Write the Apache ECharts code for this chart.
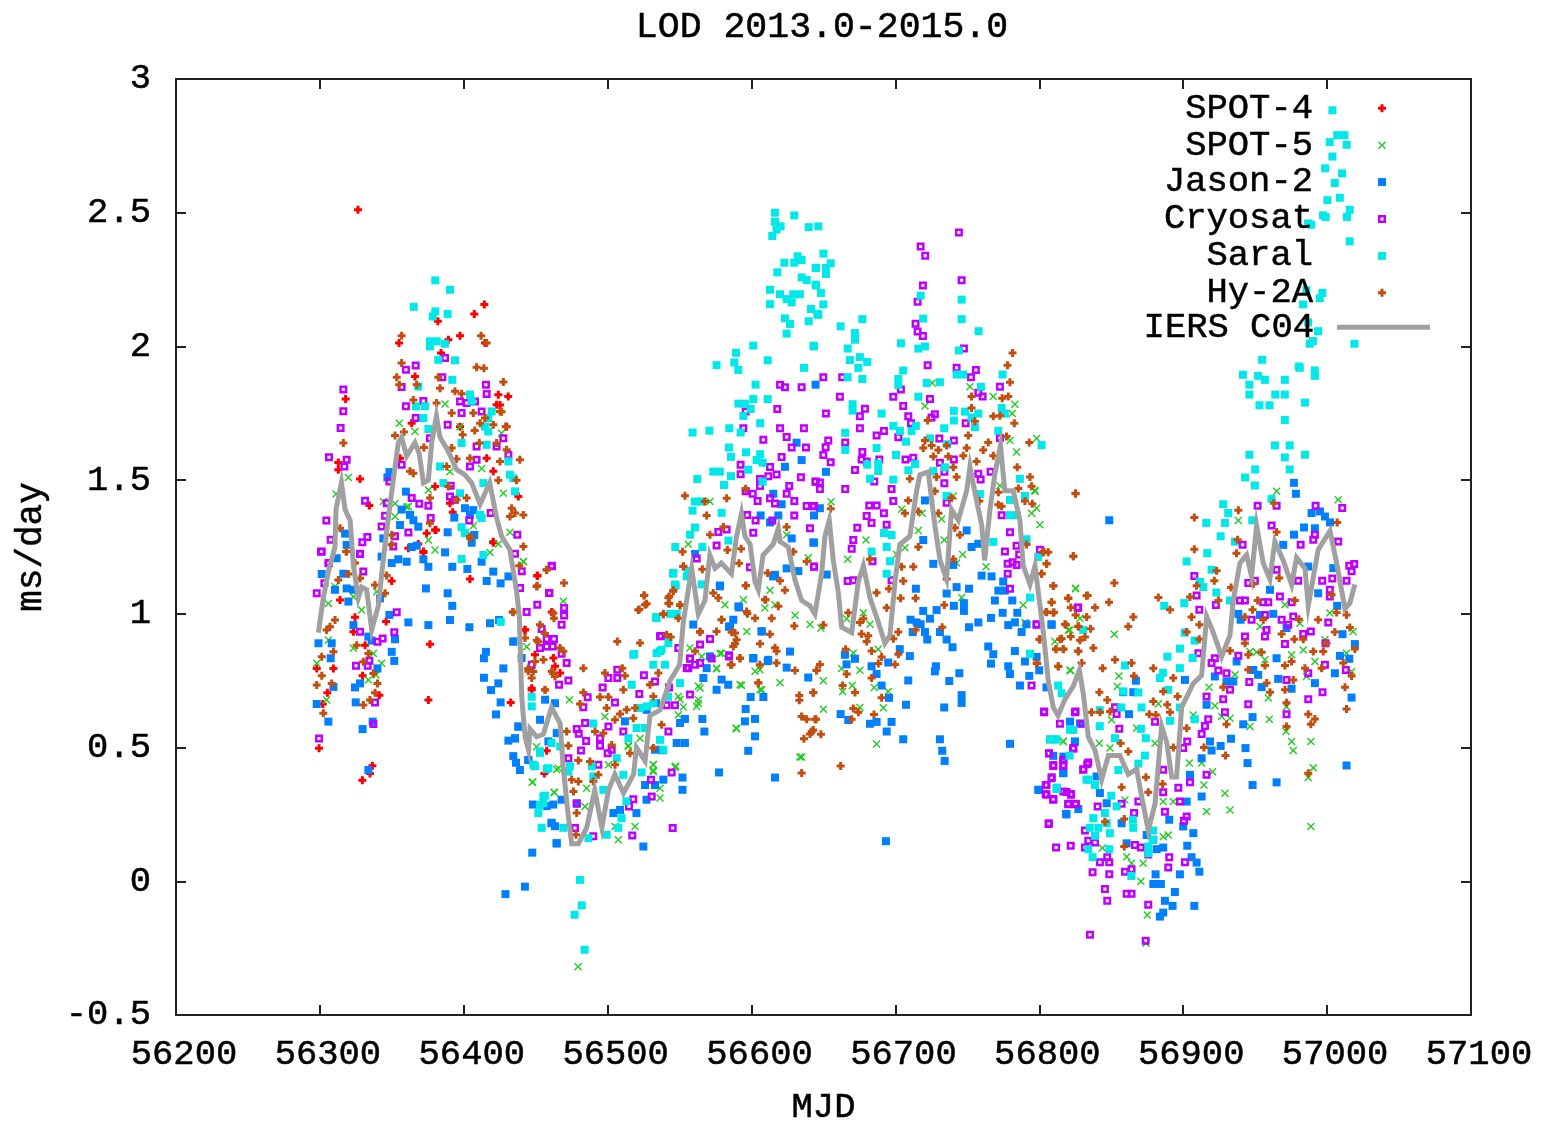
<!DOCTYPE html>
<html><head><meta charset="utf-8">
<script src="https://cdn.jsdelivr.net/npm/echarts@6/dist/echarts.min.js"></script>
<style>html,body{margin:0;padding:0;background:#fff}#c{width:1543px;height:1123px}</style>
</head><body><div id="c"></div>
<script>
const titleText="LOD 2013.0-2015.0";
const seriesNames=["SPOT-4","SPOT-5","Jason-2","Cryosat","Saral","Hy-2A","IERS C04"];
const spot4=[[56414.3,2.157],[56407.3,2.121],[56382,2.094],[56397.4,2.04],[56355,2.013],[56389.3,2.025],[56414.7,2.013],[56384.2,1.975],[56366.1,1.888],[56317.9,1.803],[56430.9,1.813],[56424,1.819],[56422.8,1.782],[56312.8,1.566],[56312.8,1.539],[56327.9,1.504],[56334.4,1.405],[56371.9,1.233],[56392.3,1.38],[56380,1.314],[56420.5,1.533],[56420.5,1.27],[56363.8,1.713],[56397.4,1.7],[56429.8,1.7],[56415.9,1.582],[56390.4,1.414],[56380,1.476],[56355.7,1.582],[56437.9,1.439],[56299.4,.497],[56297.8,.796],[56309.4,.796],[56305.2,.705],[56302,.663],[56314,1.052],[56324.4,.987],[56323.3,.933],[56331.4,.883],[56346,.971],[56349.9,1.123],[56329.7,.769],[56341.3,.696],[56336.5,.432],[56334.8,.403],[56329.5,.378],[56376.5,.886],[56375.4,.678],[56404.3,1.13],[56432.6,.669],[56371.9,1.229],[56420.5,1.266],[56442.5,.94],[56447.2,.715],[56451.1,1.142],[56457.6,.488],[56456,.403],[56380.7,1.314],[56374.2,1.301],[56425.2,1.781],[56368.4,1.261],[56361.5,1.245],[56326.5,2.511],[56451.1,1.143],[56461.1,1.007],[56442.6,.941],[56449.5,.847],[56462.3,.835],[56447.2,.722],[56466.9,.779],[56463.4,.804]];
const spot5=[[56355.2,1.713],[56366.1,1.682],[56311.2,1.448],[56319.8,1.51],[56344.1,1.42],[56360.3,1.4],[56352.2,1.413],[56352.2,1.364],[56305.9,1.039],[56310.5,1.102],[56323.3,1.064],[56329,1.014],[56339.5,1.083],[56297.8,.815],[56305.9,.902],[56304.7,.678],[56323.3,.871],[56337.2,.852],[56342.9,.815],[56333.7,.753],[56339,.771],[56380,1.239],[56375.4,1.276],[56361.5,1.401],[56406.6,1.329],[56418.2,1.229],[56424,1.261],[56432.1,1.305],[56441.4,1.195],[56447.6,.37],[56463,.332],[56450.6,.503],[56443.7,.877],[56464.5,.418],[56387,1.785],[56397.4,1.7],[56427.5,1.451],[56426.3,1.675],[56390.4,1.532],[56375.4,1.463],[56412.4,1.544],[56479.4,-.32],[56441.4,1.196],[56469.2,1.047],[56447.9,.371],[56462.7,.333],[56473.4,.679],[56465.7,.423],[56500.5,.436],[56498.1,.616],[56514.4,.504],[56522.5,.535],[56531.7,.436],[56531.7,.41],[56546.8,.426],[56536.4,.348],[56536.4,.311],[56519,.205],[56507.4,.155],[56505.1,.205],[56485.4,.348],[56484.2,.28],[56549.1,.691],[56549.1,.623],[56563,.729],[56563,.679],[56561.8,.654],[56592,.735],[56607,.716],[56589.2,.573],[56594.3,1.053],[56581.5,1.034],[56596.6,.934],[56579.2,.853],[56575.7,.797],[56557.2,.872],[56565.3,.841],[56609.3,1.022],[56616.3,1.034],[56605.8,.791],[56602.4,.785],[56571.1,1.42],[56556,1.26],[56624.4,1.296],[56639.4,1.21],[56612.8,1.088],[56630.2,.995],[56640.6,.96],[56578,.852],[56575.7,.795],[56619.8,.742],[56593.1,.733],[56564.2,.723],[56563,.666],[56605.9,.716],[56633.6,.465],[56634.8,.465],[56547.3,.43],[56531.7,.437],[56531.7,.415],[56550.3,.68],[56552.6,.652],[56589.6,.57],[56514.4,.508],[56725.6,1.863],[56751.8,1.849],[56768,1.813],[56783,1.784],[56781.2,1.749],[56720.5,1.777],[56798.1,1.656],[56779.6,1.648],[56784.2,1.605],[56655.2,1.419],[56704.3,1.391],[56718.6,1.376],[56732.1,1.355],[56740.2,1.441],[56796.9,1.462],[56794.6,1.376],[56800.4,1.333],[56679.5,1.276],[56715.9,1.312],[56733.9,1.276],[56746.7,1.222],[56700.8,1.222],[56706.6,1.247],[56666.8,1.204],[56762.9,1.176],[56742.5,1.19],[56772.6,1.479],[56746,1.061],[56825.2,1.094],[56788.8,1.033],[56677.7,1.004],[56666.1,.982],[56648.2,.947],[56682.3,.961],[56790,.968],[56820.1,.94],[56670.7,.854],[56688,.868],[56662.6,.796],[56675.3,.789],[56649.9,.75],[56670,.732],[56685.3,.725],[56663.3,.71],[56695,.71],[56649.9,.643],[56675.3,.65],[56691.6,.649],[56686.9,.513],[56810.8,.897],[56816.6,.524],[56821.2,.789],[56964.9,1.458],[57007.7,1.427],[56938.3,1.349],[56797,1.458],[56798.1,1.395],[56825.2,1.096],[56852.1,.924],[56821.8,.788],[56828.2,.984],[56821.3,.94],[56855.3,.768],[56854.2,.728],[56882.7,.664],[56917.9,.726],[56922,.656],[56932.5,.61],[56926.7,.616],[56946.4,.579],[56959.8,.606],[56971.4,.56],[56975.3,.523],[56976.5,.489],[56988.7,.523],[56990.4,.425],[56986.9,.388],[56920.4,.41],[56904.2,.442],[56914.4,.36],[56912.8,.442],[56929,.329],[56932.5,.267],[56916.2,.261],[56988.7,.205],[56946.4,.859],[56951,.856],[56956.8,.828],[56975.3,.847],[56983.4,.865],[56991.5,.822],[56998.5,.903],[57013.5,.853],[57018.1,.934],[57017,.784],[56985.7,.766],[56936,.772],[56959.1,.685],[56971.8,.653],[56970.7,1.034],[56981.1,.965],[56953.3,.953],[57001.9,1.003],[56889.6,.173],[56886.1,.167],[56893.1,.298],[56886.1,.298],[56860.7,.092],[56864.1,.067],[56872.2,.067],[56870.6,0],[56875,-.126],[56874.1,-.232],[56843.8,.124],[56859.5,.304],[56849.1,.498],[56841.7,.516],[56816.7,.523],[56880.4,.516],[56867.6,.572],[56850.2,.604],[56907,.622]];
const jason2=[[56348.3,1.53],[56346.9,1.51],[56359.8,1.457],[56362.6,1.37],[56365,1.35],[56368.4,1.326],[56355.7,1.332],[56356.8,1.39],[56388.8,1.305],[56393.4,1.36],[56400.8,1.395],[56406.6,1.388],[56404.3,1.37],[56407.3,1.295],[56405.5,1.266],[56363.8,1.25],[56367.3,1.255],[56387,1.23],[56371.9,1.204],[56375.4,1.176],[56360.3,1.195],[56354.5,1.204],[56349.9,1.19],[56392,1.176],[56402.5,1.168],[56412.4,1.195],[56420.5,1.158],[56431,1.14],[56415.9,1.123],[56425.6,1.114],[56373.7,1.095],[56388.8,1.077],[56392,1.03],[56348.3,.996],[56361.5,.968],[56375.4,.958],[56390.4,.977],[56403.9,.95],[56418.2,.965],[56424.5,.977],[56434.4,.896],[56415.4,.858],[56414,.834],[56427.5,.796],[56414,.761],[56424,.74],[56418.9,.715],[56425.6,.669],[56422.4,.624],[56438,.578],[56435.6,.534],[56431,.526],[56434.4,.468],[56436.3,.443],[56439,.416],[56444.8,.453],[56448,.287],[56457.6,.281],[56462.2,.287],[56461,.219],[56463.4,.206],[56464.5,.141],[56447.6,.107],[56442.5,-.02],[56429,-.048],[56301.3,1.149],[56316.3,1.15],[56317.5,1.3],[56318.6,1.258],[56311.7,1.208],[56318.6,1.095],[56323.3,1.09],[56310.5,1.09],[56319.8,1.046],[56299,.89],[56308.2,.89],[56307.5,.834],[56309.4,.727],[56297.8,.663],[56305.9,.597],[56323.3,.958],[56333.7,.915],[56336,.9],[56349.9,.858],[56351.7,.824],[56352.2,.905],[56340,.796],[56327.9,.74],[56324.4,.725],[56324.9,.669],[56336.7,.597],[56329.7,.569],[56333.7,.416],[56342.9,1.214],[56344.1,1.282],[56341.8,1.058],[56434.5,.897],[56440.2,.835],[56456.5,.679],[56463.4,.666],[56453,.604],[56458.8,.523],[56464.6,.554],[56437.9,.579],[56435.6,.535],[56444.9,.454],[56468,.305],[56461,.217],[56464.6,.143],[56478.5,.292],[56504,.255],[56508.6,.267],[56520,.255],[56524.8,.13],[56527,.305],[56526,.36],[56532.9,.36],[56538.7,.38],[56552,.342],[56552,.388],[56577.4,.407],[56616.3,.388],[56597.7,.488],[56602.4,.542],[56567.2,.56],[56550.3,.592],[56553.7,.607],[56565.8,.607],[56595.4,.598],[56602.4,.607],[56548,.517],[56553.7,.517],[56538.2,.49],[56532.9,.492],[56512,.598],[56533.6,.666],[56527.1,.641],[56566.5,.76],[56579.2,.754],[56583.8,.735],[56575.7,.716],[56599.4,.689],[56608.2,.689],[56595.9,.644],[56601.2,.835],[56611.6,.828],[56607,.935],[56616.3,1.146],[56578,1.103],[56571.1,.841],[56568.8,.797],[56590.8,1.028],[56559.5,.96],[56585,.953],[56644.5,1.857],[56631.3,1.64],[56634.8,1.575],[56623.2,1.55],[56615.1,1.449],[56620.9,1.41],[56618.6,1.368],[56612.8,1.342],[56606.3,1.368],[56627.9,1.282],[56642.9,1.267],[56643.4,1.368],[56624.4,1.17],[56632.5,1.16],[56615,1.14],[56560.7,1.224],[56578,1.106],[56591.3,1.024],[56587.3,.978],[56584.3,.952],[56607,.934],[56626.7,.859],[56601.2,.833],[56611.2,.823],[56624.4,.799],[56639.4,.762],[56651.7,1.531],[56647.5,1.395],[56643.4,1.266],[56652.2,1.147],[56720.5,1.424],[56749.5,1.312],[56752.9,1.25],[56757.6,1.262],[56719.3,1.276],[56726.3,1.187],[56740.2,1.183],[56759.9,1.143],[56766.8,1.14],[56774.9,1.121],[56714.2,1.094],[56742.5,1.1],[56751.1,1.094],[56735.6,1.076],[56771.5,1.087],[56776.1,1.087],[56769.1,1.05],[56781.2,1.05],[56719.3,1.011],[56724,.982],[56728.6,1.014],[56740.6,1.03],[56747.6,1.04],[56747.6,1.011],[56774.5,1.004],[56784.7,1.004],[56710.5,.978],[56714.7,.968],[56717.5,.961],[56766.4,.985],[56757.6,.968],[56751.1,.95],[56778.4,.958],[56783,.968],[56808.5,.961],[56791.1,.961],[56712,.932],[56720.5,.932],[56722.1,.904],[56730.9,.932],[56735.6,.904],[56739.7,.875],[56787.7,.932],[56764.5,.878],[56768,.849],[56783,.861],[56790,.822],[56798.1,.839],[56766.4,.814],[56778.4,.804],[56779.6,.775],[56793,.768],[56799.9,.789],[56728.1,.804],[56727.4,.785],[56744.4,.778],[56737.4,.749],[56708.9,.751],[56703,.868],[56710,.842],[56695,.818],[56683.4,.804],[56686.9,.775],[56664.9,.847],[56671.9,.832],[56666,.811],[56690.4,.732],[56786.5,.732],[56805,.725],[56695.5,.686],[56746,.696],[56746,.667],[56707.3,.66],[56733.9,.65],[56661.9,.625],[56682.3,.589],[56686.9,.596],[56697.3,.596],[56667.2,.603],[56693.9,.56],[56705.4,.531],[56730.9,.531],[56732.5,.488],[56734.2,.45],[56779.6,.514],[56824.7,.521],[56816.6,.405],[56818.9,.25],[56799.2,.342],[56693.4,.15],[56848.6,1.35],[56977,1.49],[56978.3,1.449],[56989.2,1.377],[56995,1.383],[56998.5,1.364],[56983.9,1.323],[57002,1.342],[56977,1.296],[56991.5,1.32],[56969.5,1.258],[56986.9,1.177],[57004.3,1.171],[56993.8,1.077],[56960.3,1.09],[56938.3,1],[56962.6,1],[56953.3,.996],[57007,1.03],[56939.9,.978],[56971.8,.947],[56808.5,.959],[57019.3,.887],[57010.7,.924],[56964.9,.834],[57015.4,.832],[56937.1,.822],[56948.7,.79],[57008.9,.843],[57005.4,.778],[56966,.757],[56991.5,.741],[56952.1,.772],[56954.5,.726],[56975.3,.72],[57017,.687],[56867.1,.75],[56901.2,.753],[56858.3,.707],[56865.3,.707],[56922,.766],[56930.1,.747],[56934.8,.747],[56916.2,.66],[56862.3,.625],[56948.2,.614],[56941.7,.587],[56918.6,.523],[56933.2,.533],[56926,.506],[56943.3,.498],[56919.7,.489],[56912.8,.46],[56944.7,.442],[57013.5,.433],[56821.3,.597],[56828.2,.59],[56824.8,.523],[56809.7,.469],[56816.7,.466],[56816.7,.404],[56904.7,.398],[56948.2,.36],[56964.9,.37],[56827.1,.27],[56818.5,.252],[56800,.342],[56912.8,.317],[56902.4,.298],[56846.8,.292],[56857.2,.217],[56890.3,.23],[56907,.18],[56900,.205],[56902.8,.133],[56886.1,.126],[56860.7,.142],[56881.5,.12],[56905.8,.09],[56909.3,.07],[56911.2,.036],[56880.8,.026],[56897.7,.026],[56879.2,-.01],[56884.5,-.01],[56894.2,-.04],[56887.3,-.073],[56892.6,-.092],[56907.7,-.092],[56886.1,-.117],[56883.8,-.132],[56874.6,.173],[56839.8,.392],[56842.1,.33]];
const cryosat=[[56316.3,1.839],[56316.3,1.758],[56314.4,1.695],[56306.3,1.586],[56318.6,1.576],[56317,1.551],[56331.4,1.423],[56333,1.287],[56329.5,1.268],[56304.5,1.349],[56307.5,1.277],[56300.8,1.232],[56306.3,1.19],[56359.8,1.913],[56366.6,1.929],[56356.8,1.848],[56387,1.957],[56385.1,1.885],[56371.9,1.796],[56359.8,1.776],[56366.6,1.732],[56397.4,1.794],[56402,1.788],[56407.8,1.794],[56415.4,1.857],[56415.9,1.822],[56412.4,1.757],[56398.5,1.751],[56388.8,1.707],[56427.5,1.657],[56408.9,1.626],[56422.8,1.626],[56431,1.595],[56408.9,1.576],[56404.3,1.551],[56376.5,1.657],[56356.8,1.558],[56348.3,1.495],[56390.9,1.479],[56390.4,1.439],[56393.9,1.427],[56369.1,1.412],[56375.4,1.404],[56346.4,1.414],[56363.8,1.433],[56377,1.358],[56403.8,1.349],[56418.7,1.377],[56361.5,1.304],[56352.2,1.29],[56342.9,1.327],[56345.3,1.367],[56327.9,1.225],[56437.2,1.296],[56435.6,1.225],[56461,1.18],[56351,1.252],[56353.4,1.006],[56351.7,.931],[56340,.896],[56327.9,.933],[56338.3,.669],[56337.2,.588],[56325.1,.806],[56333.2,.806],[56334.4,.825],[56299.4,.534],[56297.8,1.077],[56303.1,1.114],[56305.9,1.189],[56301.3,1.233],[56330.2,1.158],[56327.9,1.224],[56343.6,.908],[56440.3,1.159],[56439.1,1.097],[56459.5,1.078],[56451.1,1.034],[56443.7,1.007],[56469.7,1.022],[56469.7,.994],[56468,.959],[56454.1,.943],[56457.6,.906],[56462.7,.906],[56453,.872],[56457.6,.878],[56461.8,.878],[56468,.851],[56471.5,.816],[56447.2,.81],[56466.2,.735],[56472.7,.751],[56500.5,.76],[56506.7,.791],[56506.7,.76],[56496.5,.725],[56525.2,.77],[56532.9,.747],[56542.6,.725],[56486.1,.688],[56505.1,.669],[56483.1,.651],[56522,.7],[56557.2,.698],[56546.8,.658],[56541,.658],[56484.3,.592],[56478.5,.569],[56479.9,.552],[56485,.525],[56494.7,.535],[56494.7,.507],[56500.5,.579],[56510.9,.56],[56542.2,.56],[56481.5,.489],[56500,.479],[56502.8,.492],[56472.7,.46],[56493.5,.436],[56544.5,.407],[56530.1,.38],[56530.6,.317],[56517.8,.307],[56514.8,.28],[56478.5,.29],[56517.1,.171],[56545.2,.199],[56477.3,.199],[56490,.168],[56564.2,.885],[56571.1,.906],[56557.2,.832],[56584.3,.841],[56556,.797],[56560.7,.81],[56564.2,.816],[56549.1,.872],[56536.4,.916],[56619.8,1.857],[56623.2,1.847],[56634.8,1.847],[56617.9,1.766],[56595.9,1.757],[56594.3,1.694],[56619.8,1.694],[56636.4,1.694],[56608.2,1.651],[56624.4,1.661],[56627.9,1.622],[56637.8,1.622],[56620.9,1.587],[56592.4,1.558],[56592.4,1.522],[56612.8,1.549],[56605.9,1.504],[56617.4,1.521],[56611.6,1.515],[56634.3,1.511],[56605.9,1.478],[56644.5,1.494],[56626.2,1.478],[56595.9,1.458],[56600.8,1.449],[56624.4,1.449],[56604.2,1.422],[56612.8,1.432],[56629.7,1.422],[56616.3,1.413],[56638.3,1.403],[56643.4,1.403],[56629.7,1.368],[56597,1.37],[56614.4,1.349],[56602.8,1.349],[56640.6,1.32],[56576.9,1.306],[56582.7,1.315],[56601.2,1.303],[56575.7,1.256],[56561.9,1.207],[56643.4,1.177],[56598.9,1.174],[56461.3,1.178],[56459.3,1.078],[56537.1,.917],[56557.2,.833],[56572.3,.833],[56584.3,.845],[56554.9,.798],[56744.1,2.426],[56717.5,2.374],[56720.7,2.339],[56746,2.247],[56719.1,2.228],[56715.4,2.167],[56714,2.085],[56715.4,2.056],[56719.1,2.039],[56747.6,1.992],[56649.9,1.885],[56663,1.885],[56722.4,1.93],[56742.5,1.92],[56755.9,1.912],[56752.5,1.885],[56661.4,1.812],[56698.5,1.812],[56703.8,1.839],[56757.6,1.827],[56760.6,1.813],[56772.6,1.849],[56724,1.803],[56651.7,1.749],[56678.8,1.767],[56675.3,1.739],[56705.4,1.777],[56708.9,1.739],[56727.4,1.746],[56725.1,1.734],[56675.3,1.694],[56710.8,1.713],[56692,1.684],[56686.9,1.667],[56748.8,1.713],[56702,1.66],[56653.3,1.648],[56665.1,1.641],[56730.5,1.656],[56740.6,1.648],[56772.6,1.658],[56651.5,1.623],[56649.9,1.594],[56677,1.605],[56655,1.567],[56676.5,1.577],[56680,1.57],[56688.8,1.577],[56712.4,1.584],[56707,1.577],[56671.9,1.538],[56730.9,1.565],[56740.6,1.577],[56734,1.531],[56757.6,1.524],[56766.1,1.531],[56685.3,1.495],[56759.2,1.502],[56734,1.488],[56644.5,1.495],[56647.5,1.491],[56647.5,1.467],[56697.3,1.467],[56665.1,1.467],[56698.5,1.422],[56681.8,1.405],[56686.9,1.405],[56735.6,1.415],[56642.5,1.402],[56680,1.366],[56692,1.376],[56683.4,1.34],[56693.9,1.333],[56773.8,1.369],[56673.5,1.322],[56670.7,1.276],[56669.6,1.243],[56779.6,1.305],[56776.1,1.233],[56786,1.222],[56784.2,1.255],[56643.4,1.176],[56778,1.187],[56781.4,1.193],[56784.2,1.183],[56778,1.15],[56684.1,1.197],[56697.3,1.126],[56666.8,1.123],[56670.7,1.126],[56779.6,1.094],[56800.4,1.24],[56827,1.023],[56798.1,.961],[56794.6,.732],[56803.4,.632],[56824.7,.632],[56823.6,.496],[56806.7,.478],[56809.7,.431],[56816.6,.453],[56816.6,.431],[56830.5,.417],[56833.3,.438],[56808.5,.385],[56805,.36],[56805,.324],[56809.7,.305],[56818.9,.334],[56822,.324],[56820.1,.288],[56825.4,.288],[56806.4,.214],[56951.7,1.404],[56964.9,1.404],[56992,1.404],[57010.5,1.396],[56961.4,1.33],[56991.5,1.296],[56990.4,1.277],[56941.3,1.258],[56981.6,1.258],[57007.7,1.271],[57018.8,1.186],[57015.4,1.18],[57017,1.159],[56964.9,1.165],[57013.5,1.124],[56979.9,1.124],[56996.6,1.124],[57003.6,1.132],[56945.2,1.115],[56949.8,1.124],[56907.7,1.142],[57001.9,1.09],[57001.9,1.065],[56967.2,1.065],[56939.4,1.05],[56942.9,1.05],[56909.3,1.069],[56826.6,1.024],[56922.7,1.033],[56955.6,1.043],[56959.1,1.043],[56975.3,1.043],[56911.2,1.015],[56956.8,.996],[56968.4,.978],[56973,.959],[56947.5,.978],[56976.5,.99],[57000.8,.968],[56798.1,.959],[56957.9,.94],[56942.9,.915],[56988.7,.934],[56983.4,.925],[56956.8,.915],[56998.9,.89],[56970.7,.887],[56910.5,.853],[56922,.834],[56938.3,.843],[56919.7,.816],[56924.4,.788],[56998.5,.81],[57013,.79],[56986.9,.778],[56930.1,.778],[56945.9,.745],[56932.5,.716],[56971.8,.753],[56996.8,.707],[56916.2,.691],[56927.8,.681],[56986.9,.681],[56945.2,.662],[56852.6,.651],[56825.2,.635],[56853.7,.626],[56803.2,.635],[56929,.632],[56971.8,.625],[56880.4,.597],[56814.3,.589],[56829.4,.589],[56917.4,.606],[56915.1,.581],[56855.6,.57],[56912.8,.551],[56902.8,.523],[56900,.498],[56806.7,.479],[56823.6,.498],[56816.7,.454],[56816.7,.435],[56809.7,.435],[56834,.444],[56830.6,.419],[56886.1,.417],[56916.2,.398],[56808.6,.389],[56904.7,.37],[56804.4,.36],[56896.6,.35],[56816.7,.336],[56886.1,.333],[56822,.326],[56804.4,.326],[56809.7,.308],[56897.7,.298],[56868.8,.298],[56820.1,.29],[56825.2,.29],[56840.5,.28],[56857.2,.29],[56887.3,.26],[56902.4,.242],[56865.8,.255],[56900.5,.226],[56806.7,.217],[56831.7,.19],[56834,.152],[56838.7,.145],[56821.8,.133],[56811.6,.126],[56831.7,.126],[56870.6,.126],[56866.5,.136],[56879.2,.155],[56847.2,.09],[56875.7,.1],[56842.1,.071],[56848.6,.071],[56890.3,.09],[56901.2,.071],[56889.6,.052],[56837,.034],[56848.6,.026],[56864.1,.045],[56859.5,.036],[56845.6,-.029],[56847.2,-.073],[56860.7,-.047],[56864.1,-.047],[56875.7,-.088],[56835.2,-.2],[56873.9,-.222]];
const saral=[[57003.7,2.883],[57001.8,2.764],[57007,2.79],[57012,2.79],[57013.6,2.754],[57003.7,2.71],[56998.6,2.666],[57010.4,2.647],[57005.3,2.611],[57000.2,2.547],[57008.8,2.556],[57015.7,2.511],[57013.8,2.484],[56997.2,2.49],[56999,2.484],[56986.8,2.46],[56989,2.455],[57015.7,2.393],[56996.7,2.2],[56994.9,2.18],[56985.6,2.21],[56983.3,2.157],[56986.8,2.09],[56993.7,2.057],[56990.2,2.02],[56987.9,2.01],[57019,2.01],[56954.8,1.95],[56980.3,1.925],[56991.4,1.91],[56941.5,1.894],[56952,1.89],[56946,1.857],[56956.8,1.875],[56964,1.82],[56970.6,1.875],[56981,1.92],[56991.5,1.89],[56946,1.82],[56953,1.78],[56960,1.78],[56970.6,1.82],[56984.6,1.79],[56970.6,1.725],[56963.7,1.63],[56974,1.63],[56970.6,1.585],[56974,1.54],[56946,1.595],[56943,1.51],[56950,1.54],[56984.6,1.595],[56927.8,1.41],[56931.3,1.377],[56929,1.34],[56916,1.34],[56948,1.35],[56949.8,1.48],[56961.4,1.43],[56926,1.29],[56936,1.27],[56916.7,1.227],[56902.4,1.196],[56919.7,1.165],[56911.6,1.12],[56914,1.1],[56923,1.08],[56932.5,1.05],[56900.7,1.04],[56886.8,1.03],[56901,.93],[56908,.9],[56889,.84],[56897.7,.87],[56906.5,.835],[56897.7,.797],[56886,.78],[56883.8,.76],[56859.5,.807],[56889.6,.716],[56868.8,.706],[56858.3,.71],[56857,.65],[56871,.65],[56842,.64],[56897.7,.65],[56908,.606],[56890.8,.6],[56870.6,.57],[56842,.58],[56823.6,.566],[56874,.535],[56807.4,.53],[56810.9,.53],[56852.6,.535],[56821,.47],[56873.4,.47],[56868.8,.44],[56854.9,.416],[56834,.38],[56838.7,.36],[56812,.35],[56850,.32],[56853.7,.28],[56845.6,.255],[56837.5,.236],[56865,.23],[56846.8,.217],[56841,.2],[56865.3,.2],[56879,.19],[56835,.2],[56838.7,.17],[56849,.18],[56879,.155],[56834,.12],[56848.6,.12],[56875.7,.13],[56875.7,.105],[56837,.09],[56864,.02],[56380.2,2.247],[56390.4,2.212],[56365.2,2.148],[56380.2,2.131],[56388.8,2.121],[56378.4,2.112],[56376.5,2.019],[56381.2,2.019],[56386.9,2.01],[56376.5,2],[56382.3,1.95],[56393.9,1.948],[56392,1.875],[56368.4,1.85],[56404.3,1.82],[56405.5,1.795],[56366.8,1.776],[56373,1.776],[56371.9,1.732],[56419.4,1.757],[56417,1.732],[56414.7,1.7],[56375.4,1.691],[56417,1.682],[56398.5,1.639],[56415.9,1.632],[56431,1.57],[56383.5,1.551],[56432,1.52],[56434.4,1.507],[56385.8,1.489],[56413.6,1.489],[56435.6,1.458],[56397.4,1.451],[56411.3,1.37],[56412.4,1.358],[56398.5,1.324],[56400.8,1.302],[56413.6,1.22],[56398.5,1.205],[56425.7,.97],[56447.2,.69],[56447.2,.654],[56455.3,.317],[56455.3,.292],[56451.8,.255],[56454.1,.2],[56458.8,.423],[56473.8,.43],[56472.7,.41],[56461,.517],[56467,.504],[56453,.486],[56448.4,.436],[56469.2,.2],[56490,.59],[56489,.43],[56490,.392],[56497,.342],[56513,.299],[56509.7,.236],[56499.3,.174],[56507.4,.2],[56486.6,.161],[56517.8,.847],[56534,.853],[56537.5,.866],[56531.7,.81],[56539.8,.81],[56550.3,.741],[56516.7,.735],[56527.1,.654],[56522.5,.648],[56542,.69],[56531.7,.666],[56514.4,.535],[56520.1,.573],[56526,.573],[56538.7,.492],[56536.4,.529],[56506.3,.46],[56523.6,.407],[56510.9,.398],[56542.2,.891],[56534,.984],[56545.6,1.153],[56546.8,1.11],[56556,1.16],[56565.3,1.11],[56543.3,1],[56548,1],[56453,.48],[56449.5,.43],[56457.6,.42],[56456.4,.32],[56453,.285],[56482,-.09],[56477,-.125],[56484,-.256],[56480.7,.005],[56616.3,2.5],[56629.7,2.49],[56616.3,2.466],[56620.2,2.449],[56617.4,2.437],[56639.7,2.446],[56614.4,2.413],[56646.4,2.449],[56632,2.337],[56622.8,2.313],[56634.8,2.323],[56629.7,2.313],[56644.5,2.294],[56617.9,2.277],[56634.8,2.258],[56638.3,2.248],[56644.5,2.231],[56612.8,2.212],[56619.8,2.195],[56629,2.195],[56633.6,2.195],[56624.4,2.177],[56627.9,2.165],[56612.8,2.158],[56641.3,2.14],[56645.7,2.122],[56623.2,2.105],[56626.7,2.084],[56639.7,2.094],[56624.4,2.048],[56643,2.003],[56601.2,2.003],[56589.2,1.976],[56611.2,1.948],[56588,1.94],[56575.7,1.93],[56590.8,1.912],[56636.4,1.92],[56602.8,1.857],[56601.2,1.803],[56611.2,1.803],[56590.8,1.786],[56595.4,1.786],[56599.4,1.766],[56594.3,1.74],[56606,1.713],[56584.5,1.694],[56592.4,1.678],[56559,1.678],[56570.7,1.685],[56584.3,1.622],[56596.1,1.604],[56585.7,1.587],[56606,1.597],[56603.5,1.575],[56607.7,1.565],[56597.7,1.539],[56573.4,1.532],[56578,1.532],[56585.7,1.515],[56562.3,1.504],[56580.8,1.482],[56607.7,1.494],[56560.7,1.42],[56565.3,1.42],[56559,1.386],[56579.2,1.378],[56560.7,1.323],[56557.2,1.296],[56583.9,1.274],[56547,1.25],[56565.8,1.25],[56545.6,1.15],[56555,1.14],[56547.3,1.106],[56533.6,.988],[56546.8,1],[56518.5,.85],[56536.4,.86],[56649.9,2.347],[56655,2.311],[56644.8,2.293],[56651.7,2.293],[56651.7,2.271],[56644.8,2.228],[56648.2,2.2],[56649.9,2.157],[56646.4,2.118],[56677,2.102],[56661.9,2.075],[56671.9,2.05],[56671.9,2.025],[56643.4,2],[56666.8,1.992],[56668.4,1.949],[56675.3,1.96],[56680.4,1.942],[56674.2,1.92],[56677,1.878],[56666.8,1.885],[56703.8,2.012],[56719.3,2.104],[56717.5,2.19],[56715.9,1.992],[56720.5,2],[56746,2.175],[56746,2.102],[56757.8,2.057],[56744.1,1.985],[56705.4,1.91],[56702,1.878],[56702,1.856],[56721.7,1.863],[56730.9,1.866],[56715.9,1.812],[56742.5,1.895],[56747.1,1.895],[56759.4,1.849],[56774.5,1.895],[56670.2,1.784],[56670.2,1.76],[56690.4,1.749],[56740.6,1.759],[56740.6,1.723],[56748.3,1.756],[56757.6,1.749],[56752.9,1.734],[56698.5,1.703],[56703.1,1.684],[56714.2,1.703],[56733.9,1.694],[56665.1,1.677],[56755.2,1.698],[56771.5,1.684],[56773.8,1.77],[56776,1.749],[56711.2,1.684],[56707.3,1.644],[56724,1.656],[56665.1,1.613],[56686.9,1.62],[56736,1.634],[56700.4,1.594],[56801.6,1.631],[56680.4,1.558],[56688,1.562],[56688,1.534],[56709,1.537],[56713.6,1.56],[56682.3,1.505],[56698.5,1.502],[56726.3,1.534],[56734.4,1.548],[56786.5,1.505],[56735.5,1.441],[56790,1.441],[56779.6,1.426],[56779.6,1.369],[56784.2,1.369],[56758.7,1.448],[56692,1.302],[56697.3,1.295],[56693.9,1.25],[56683.4,1.233],[56696.2,1.197],[56693.9,1.15],[56768,1.269],[56791.1,1.279],[56799.2,1.212],[56793.5,1.061],[56830.5,.94],[56793.5,.851],[56813.1,.732],[56815.5,.703],[56821.2,.567],[56807.4,.531],[56812,.531],[56812,.345],[56832.8,.38]];
const hy2a=[[56356.8,2.04],[56412,2.04],[56415.9,2.013],[56356.8,1.938],[56408.9,1.922],[56414,1.918],[56353.4,1.885],[56355.2,1.857],[56367.3,1.857],[56382.3,1.885],[56427.5,1.867],[56383.5,1.844],[56393.9,1.832],[56398.5,1.823],[56364.9,1.8],[56381.1,1.788],[56425.2,1.757],[56391.6,1.751],[56406.6,1.751],[56414.7,1.732],[56411.3,1.713],[56420.5,1.707],[56399.2,1.67],[56407.6,1.686],[56352.2,1.667],[56358.4,1.68],[56316.3,1.639],[56429.1,1.701],[56410.8,1.639],[56422.8,1.639],[56439,1.576],[56391.6,1.62],[56372.3,1.622],[56404.3,1.582],[56395,1.579],[56429.8,1.614],[56362.6,1.533],[56425.2,1.57],[56424,1.5],[56436.7,1.5],[56389.3,1.476],[56376.5,1.433],[56402,1.433],[56433.3,1.395],[56435.6,1.377],[56441.4,1.37],[56432.1,1.364],[56314,1.32],[56376.5,1.339],[56404.3,1.283],[56441.4,1.252],[56349.9,1.258],[56318.6,1.233],[56324.4,1.19],[56395,1.427],[56364.9,1.526],[56388.1,1.551],[56426.3,1.756],[56312.8,1.127],[56319.8,1.149],[56327.9,1.133],[56338.3,1.108],[56345.3,1.077],[56346.4,1.143],[56349.9,1.295],[56309.4,.858],[56301.3,.84],[56301.3,.769],[56297.8,.734],[56308.2,.74],[56302.4,.628],[56307,.952],[56304.7,.94],[56310.5,.977],[56318.2,1.233],[56325.6,.883],[56333.7,.852],[56330.2,.821],[56337.2,.777],[56340,.74],[56330.2,.659],[56334.8,.678],[56338.3,.705],[56434.4,1.006],[56457.6,1.164],[56450.6,1.102],[56462.2,1.002],[56404.3,1.289],[56451.8,.896],[56456.4,.927],[56444.8,.796],[56448.3,.784],[56462.2,.777],[56456.4,.715],[56438.6,1.18],[56457.6,1.165],[56451.1,1.105],[56469.7,1.115],[56434,1.007],[56462.7,.984],[56453,.959],[56442.6,.91],[56450.7,.901],[56466.9,.872],[56469.2,.86],[56449.5,.822],[56455.3,.828],[56483.1,.797],[56461.1,.785],[56444.9,.785],[56447.2,.76],[56463.4,.766],[56456.5,.716],[56498.1,.779],[56510.2,.797],[56512,.769],[56510.9,.716],[56483.1,.706],[56494.7,.689],[56500.5,.689],[56480.8,.663],[56499.3,.648],[56513.2,.641],[56519,.648],[56508.6,.626],[56517.8,.61],[56505.1,.604],[56471.5,.56],[56491.2,.56],[56497,.554],[56537.5,.585],[56472.7,.507],[56502.8,.51],[56515.5,.479],[56531.7,.498],[56479.6,.452],[56487.7,.448],[56505.1,.436],[56475,.38],[56479.6,.373],[56490,.373],[56493.5,.398],[56476.2,.336],[56478.5,.255],[56478,.174],[56506.7,.897],[56522.5,.891],[56525.2,1.069],[56526,1.034],[56522,1.016],[56542.8,1.065],[56542.2,1.04],[56545.6,1.088],[56538.7,1],[56550.3,1.034],[56549.1,.984],[56552.6,1.178],[56541,.922],[56543.8,.913],[56535.2,.779],[56529.4,.735],[56531.7,.691],[56579.2,.978],[56564.2,.934],[56575.7,.934],[56588.5,.928],[56589.6,.903],[56587.3,.878],[56591.9,.835],[56586.2,.81],[56605.8,.81],[56595.9,1.105],[56596.6,1.009],[56609.3,1.053],[56614,.984],[56617.4,.86],[56604.7,.741],[56573.4,1.078],[56576.9,1.059],[56560.7,.86],[56553.7,1.442],[56582.7,1.432],[56567.6,1.42],[56595.9,1.468],[56568.8,1.368],[56624.4,1.325],[56580.4,1.325],[56571.1,1.296],[56552.1,1.232],[56583.2,1.239],[56592.7,1.243],[56629,1.232],[56638.3,1.196],[56552.6,1.177],[56565.8,1.167],[56591.3,1.189],[56611.2,1.153],[56619.8,1.124],[56596.1,1.106],[56545.6,1.085],[56525.5,1.07],[56542.2,1.06],[56542.9,1.038],[56527.1,1.038],[56550.3,1.031],[56521.3,1.014],[56538.7,.998],[56597.1,1],[56623.2,1.088],[56602.4,.984],[56579.2,.978],[56609.8,1.053],[56618.6,1.028],[56629.7,.955],[56564.2,.931],[56612.8,.924],[56586.2,.931],[56588.5,.888],[56605.9,.888],[56616.3,.873],[56592,.833],[56585.5,.81],[56617.4,.816],[56645.2,.788],[56630.2,.788],[56604.7,.742],[56633.2,.695],[56633.2,.677],[56642.9,.705],[56634.8,.616],[56638.3,.606],[56644.1,.606],[56642.9,.566],[56640.6,.551],[56636.4,.533],[56634.8,.405],[56781.4,1.975],[56777.9,1.93],[56779.6,1.866],[56778.4,1.813],[56774.2,1.806],[56752.9,1.813],[56752.9,1.77],[56755.2,1.72],[56768,1.739],[56772.6,1.741],[56782.6,1.713],[56722.4,1.723],[56750.6,1.667],[56777.2,1.663],[56720.5,1.648],[56725.1,1.63],[56735.6,1.63],[56719.3,1.62],[56764.5,1.641],[56793,1.641],[56749.5,1.62],[56761,1.613],[56756.4,1.57],[56747.1,1.591],[56736.7,1.588],[56768,1.591],[56726.3,1.588],[56729.8,1.613],[56740.2,1.548],[56784.6,1.548],[56728.6,1.512],[56742.5,1.512],[56793.5,1.512],[56710,1.505],[56727.4,1.458],[56825.2,1.451],[56794.6,1.477],[56708.9,1.424],[56739,1.433],[56771.5,1.455],[56785.4,1.469],[56790,1.422],[56795.1,1.412],[56758.3,1.422],[56771.5,1.408],[56706.6,1.376],[56715.9,1.383],[56729.8,1.376],[56773.8,1.402],[56655,1.393],[56741.3,1.322],[56744.8,1.295],[56791.1,1.259],[56715.9,1.25],[56823.6,1.215],[56802.7,1.229],[56806.2,1.23],[56740.2,1.204],[56682.3,1.204],[56704.3,1.176],[56712.4,1.176],[56805,1.187],[56801.6,1.15],[56705.4,1.123],[56735.6,1.13],[56695.5,1.094],[56809.7,1.104],[56686.9,1.079],[56820.1,1.057],[56832.8,1.068],[56714,1.058],[56703.6,1.058],[56808.5,1.043],[56733.9,1.033],[56693.9,1.023],[56809.7,1.004],[56804.6,1.007],[56827,.954],[56817.8,.961],[56667.2,1.004],[56649.9,.958],[56675.3,.968],[56677.7,.982],[56732.5,.95],[56714,.94],[56702,.932],[56676.5,.925],[56681.1,.918],[56680,.897],[56815.5,.907],[56800.4,.904],[56828.2,.901],[56665.4,.868],[56683.4,.861],[56698.5,.907],[56811.5,.868],[56816.6,.868],[56827,.861],[56690.4,.839],[56702,.849],[56699.7,.811],[56688.1,.814],[56798.5,.814],[56645.2,.789],[56647.5,.811],[56666.1,.775],[56813.1,.804],[56683.4,.76],[56663.3,.732],[56671.9,.706],[56642.9,.706],[56690.4,.686],[56670.7,.646],[56674.2,.632],[56669.6,.606],[56685.1,.624],[56644.8,.606],[56648.2,.55],[56641.8,.56],[56661.9,.431],[56825.2,1.449],[56907.7,1.36],[56907.7,1.242],[56938.3,1.387],[56963,1.414],[57007,1.342],[56964.9,1.306],[56937.8,1.277],[56937,1.227],[56803.2,1.233],[56823.6,1.215],[56805.1,1.187],[56801.6,1.15],[56923.2,1.161],[56852.1,1.115],[56809.7,1.105],[56909.3,1.105],[56921.6,1.124],[56933.2,1.099],[56948.7,1.112],[56820.1,1.059],[56833.6,1.069],[56882.7,1.061],[56904.7,1.063],[56924.4,1.05],[56808.6,1.043],[56848.4,1.043],[56821.8,1.024],[56838.7,1.024],[56951.7,1.05],[56977.6,1.05],[56966.7,1.134],[56890.8,1.015],[56805.1,1.006],[56810.2,1.006],[56825.2,.996],[56865.3,.988],[56905.8,.988],[56832.9,.988],[56942.9,.988],[56948.2,1.015],[56980.4,.98],[56993.8,.978],[57003.1,1.071],[57006.6,1.005],[57013.5,.996],[56911.2,.959],[56861.8,.953],[56818.5,.959],[56827.1,.953],[56835.6,.944],[56955.6,.978],[57015.8,.949],[56902.4,.932],[57005.4,.932],[56821.8,.915],[56831.7,.913],[56968.4,.925],[56911.2,.905],[56814.3,.905],[56800,.905],[56942.9,.89],[56977.2,.905],[56983.4,.905],[56999.6,.89],[57019.3,.869],[56811.6,.869],[56816.7,.869],[56837.5,.872],[56827.1,.859],[56932.5,.862],[56945.2,.847],[56954.5,.856],[56990.4,.859],[56997.3,.859],[56852.6,.828],[56864.1,.816],[56798.1,.816],[56829.4,.816],[56813.2,.803],[56879.2,.797],[56844,.797],[56956.8,.807],[56975.3,.822],[56970.7,.807],[57011.2,.816],[56996.2,.797],[56945.2,.791],[56984.6,.797],[56893.1,.76],[56865.8,.768],[57017,.768],[56976.5,.753],[56958,.741],[56927.8,.726],[57012.4,.726],[56886.1,.71],[56970.7,.716],[56841.7,.707],[56960.3,.707],[56896.1,.691],[56879.2,.672],[56847.2,.678],[56971.8,.668],[56888.9,.66],[57013.5,.644],[56890.8,.632],[56836.3,.632],[56842.1,.632],[56849.1,.635],[56876.4,.625],[56881,.622],[56986.9,.625],[56991.5,.607],[56988.7,.587],[56971.8,.579],[56930.1,.587],[56902.4,.572],[56856.5,.516],[56914.4,.5],[56893.1,.5],[56861.8,.485],[56929.4,.47],[56986.9,.404],[56874.1,.389],[56857.2,.352],[56875.7,.333],[56885.7,.364],[56859,.233],[56845.6,.223],[56859,.13]];
const iersC04=[[56299,.93],[56300,.97],[56302.4,1.06],[56306,1.16],[56310.5,1.25],[56311.2,1.39],[56315,1.49],[56317.5,1.39],[56321,1.35],[56323.3,1.18],[56326.7,1.06],[56329,1.1],[56332.5,1.09],[56336,.94],[56340.6,1.03],[56344,1.2],[56347.6,1.36],[56351,1.5],[56354.5,1.64],[56356.8,1.66],[56360.3,1.59],[56366,1.64],[56369,1.6],[56372,1.49],[56375.4,1.5],[56377.7,1.64],[56381,1.74],[56383.5,1.66],[56389,1.61],[56395,1.54],[56400.8,1.52],[56405.5,1.49],[56411.3,1.41],[56418,1.49],[56422.8,1.36],[56426.3,1.29],[56432,1.24],[56436.8,1.08],[56438.6,.99],[56440.3,.69],[56442.6,.54],[56445,.49],[56446,.57],[56450.7,.54],[56455.3,.55],[56461,.65],[56467,.59],[56469,.43],[56472.7,.24],[56475,.14],[56479.6,.14],[56485.4,.2],[56491,.34],[56496,.2],[56500.5,.34],[56505,.4],[56511,.33],[56518,.4],[56520,.5],[56526,.45],[56529.4,.62],[56536.4,.64],[56543.3,.75],[56550,.81],[56552.6,.97],[56558.4,1.17],[56563,1],[56567.6,1.05],[56571,1.22],[56574.6,1.17],[56579,1.19],[56586,1.15],[56589.6,1.29],[56593,1.375],[56595.4,1.29],[56599,1.26],[56602.4,1.12],[56604.7,1.09],[56608,1.22],[56615,1.26],[56618.6,1.32],[56619.8,1.27],[56625.5,1.25],[56630,1.13],[56634.8,1.05],[56640.6,1.03],[56644,1],[56648.7,1.15],[56651,1.29],[56654,1.35],[56656.8,1.2],[56660.3,1.08],[56662.6,.95],[56669.6,.93],[56674.2,1.12],[56677.7,1.18],[56682.3,1.06],[56688,.97],[56692.7,.89],[56696.2,.92],[56699.7,1.12],[56703,1.26],[56710,1.29],[56714.7,1.46],[56717,1.52],[56722.8,1.53],[56727.4,1.33],[56731,1.2],[56735.5,1.13],[56739,1.39],[56743.7,1.35],[56749.5,1.46],[56751.8,1.55],[56755,1.46],[56760,1.33],[56762,1.2],[56765.7,1.39],[56769,1.52],[56773,1.63],[56776,1.46],[56781.9,1.46],[56786.5,1.35],[56788.8,1.18],[56793.5,1.11],[56797,1.18],[56799.3,1.08],[56802.8,.93],[56806.2,.75],[56809.7,.65],[56813,.62],[56817.8,.68],[56823.6,.73],[56827.8,.79],[56830.6,.7],[56834,.54],[56838.7,.49],[56843.3,.38],[56848,.47],[56856,.47],[56861.8,.4],[56867.6,.42],[56871,.32],[56875.7,.19],[56880.4,.29],[56885,.58],[56888.5,.52],[56892,.39],[56895.4,.39],[56898.9,.65],[56907,.74],[56912.8,.77],[56916.3,.99],[56920.9,.93],[56926.7,.84],[56932.5,.92],[56934.8,1.05],[56939.4,1.19],[56944,1.22],[56947.5,1.14],[56951,1.33],[56955.6,1.19],[56960.2,1.13],[56963.7,1.27],[56969.5,1.2],[56975.3,1.11],[56978.8,1.21],[56984.6,1.17],[56986.9,1.03],[56993.8,1.24],[57002,1.31],[57006.6,1.19],[57012.4,1.02],[57015.8,1.04],[57019.3,1.11]];
const xTicks={min:56200,max:57100,step:100};
const yTicks={min:-0.5,max:3,step:0.5};

const FONT='"Liberation Mono","DejaVu Sans Mono",monospace';
const plus='path://M2.5 0H5.5V2.5H8V5.5H5.5V8H2.5V5.5H0V2.5H2.5Z';
const cross='path://M0 1L1 0L4 3L7 0L8 1L5 4L8 7L7 8L4 5L1 8L0 7L3 4Z';
const hollow='path://M0 0H8V8H0ZM2.5 2.5V5.5H5.5V2.5Z';
const scatter=(name,data,symbol,size,color)=>({name,type:'scatter',data,symbol,symbolSize:size,itemStyle:{color,opacity:1},silent:true,clip:false,progressive:0});
const textFx={textBorderColor:'#000',textBorderWidth:0.5};
const option={
  animation:false,backgroundColor:'#fff',
  title:{text:titleText,left:817,top:4,textAlign:'center',textStyle:{fontFamily:FONT,fontSize:36.5,fontWeight:'normal',color:'#000',...textFx}},
  grid:{left:176,right:72,top:79,bottom:108,outerBoundsMode:'none'},
  legend:[
   {data:seriesNames.slice(0,6),orient:'vertical',align:'right',right:152,top:85,itemWidth:8,itemHeight:8,itemGap:0.4,selectedMode:false,
    textStyle:{fontFamily:FONT,fontSize:35.5,color:'#000',lineHeight:30,padding:[0,60,0,0],...textFx}},
   {data:[{name:seriesNames[6],icon:'rect'}],orient:'vertical',align:'right',right:108,top:304,itemWidth:93,itemHeight:5,selectedMode:false,
    textStyle:{fontFamily:FONT,fontSize:35.5,color:'#000',lineHeight:30,padding:[0,18,0,0],...textFx}}
  ],
  xAxis:[
   {type:'value',min:xTicks.min,max:xTicks.max,interval:xTicks.step,name:'MJD',nameLocation:'middle',nameGap:75,
    nameTextStyle:{fontFamily:FONT,fontSize:35.5,color:'#000',...textFx},
    axisLine:{show:true,onZero:false,lineStyle:{color:'#222',width:2}},axisTick:{show:true,inside:true,length:10,lineStyle:{color:'#222',width:2}},
    axisLabel:{show:true,margin:22,fontFamily:FONT,fontSize:35.5,color:'#000',padding:[0,0,0,16],formatter:v=>String(v),...textFx},splitLine:{show:false}},
   {type:'value',position:'top',min:xTicks.min,max:xTicks.max,interval:xTicks.step,
    axisLine:{show:true,onZero:false,lineStyle:{color:'#222',width:2}},axisTick:{show:true,inside:true,length:10,lineStyle:{color:'#222',width:2}},axisLabel:{show:false},splitLine:{show:false}}
  ],
  yAxis:[
   {type:'value',min:yTicks.min,max:yTicks.max,interval:yTicks.step,name:'ms/day',nameLocation:'middle',nameGap:127,nameRotate:90,
    nameTextStyle:{fontFamily:FONT,fontSize:36,color:'#000',...textFx},
    axisLine:{show:true,onZero:false,lineStyle:{color:'#222',width:2}},axisTick:{show:true,inside:true,length:10,lineStyle:{color:'#222',width:2}},
    axisLabel:{show:true,margin:25,fontFamily:FONT,fontSize:35.5,color:'#000',padding:[5,0,0,0],...textFx},splitLine:{show:false}},
   {type:'value',position:'right',min:yTicks.min,max:yTicks.max,interval:yTicks.step,
    axisLine:{show:true,onZero:false,lineStyle:{color:'#222',width:2}},axisTick:{show:true,inside:true,length:10,lineStyle:{color:'#222',width:2}},axisLabel:{show:false},splitLine:{show:false}}
  ],
  series:[
   scatter(seriesNames[0],spot4,plus,8,'#ff0000'),
   scatter(seriesNames[1],spot5,cross,8,'#22cc22'),
   scatter(seriesNames[2],jason2,'rect',8,'#0080ff'),
   scatter(seriesNames[3],cryosat,hollow,8,'#c000ff'),
   scatter(seriesNames[4],saral,'rect',8,'#00e8e8'),
   scatter(seriesNames[5],hy2a,plus,8,'#c04f10'),
   {name:seriesNames[6],type:'line',data:iersC04,symbol:'none',showSymbol:false,silent:true,lineStyle:{color:'#a0a0a0',width:5,join:'miter'},itemStyle:{color:'#a0a0a0'}}
  ]
};
echarts.init(document.getElementById('c'),null,{renderer:'canvas'}).setOption(option);
</script></body></html>
